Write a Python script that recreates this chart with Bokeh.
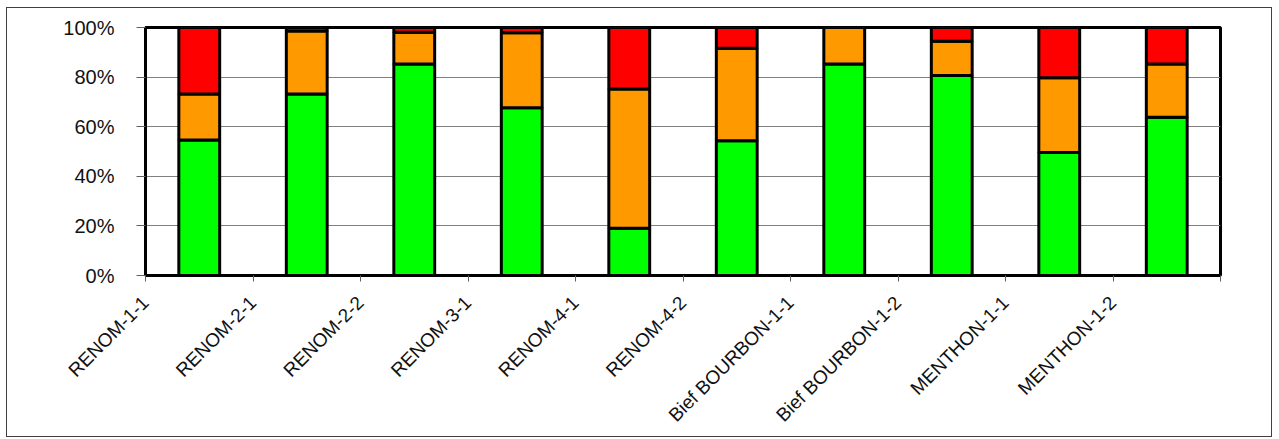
import math
from bokeh.plotting import figure
from bokeh.models import Range1d, FixedTicker, PrintfTickFormatter
from bokeh.embed import file_html
from bokeh.resources import INLINE

categories = ["RENOM-1-1", "RENOM-2-1", "RENOM-2-2", "RENOM-3-1", "RENOM-4-1",
              "RENOM-4-2", "Bief BOURBON-1-1", "Bief BOURBON-1-2", "MENTHON-1-1", "MENTHON-1-2"]
green = [54.6, 73.2, 85.3, 67.6, 19.1, 54.3, 85.3, 80.6, 49.6, 63.8]
orange = [18.6, 25.4, 12.8, 30.3, 56.1, 37.3, 14.7, 13.9, 30.1, 21.5]
red = [26.8, 1.4, 1.9, 2.1, 24.8, 8.4, 0.0, 5.5, 20.3, 14.7]
y_ticks = [0, 20, 40, 60, 80, 100]

n = len(categories)
x = [i + 0.5 for i in range(n)]
data = dict(x=x, green=green, orange=orange, red=red)

p = figure(width=1266, height=430, output_backend="svg", toolbar_location=None,
           x_range=Range1d(0, n), y_range=Range1d(0, 100),
           min_border_left=138, min_border_right=53, min_border_top=19, min_border_bottom=163)
p.styles = {"border": "1px solid #404040", "margin-left": "6px", "margin-top": "7px"}

p.vbar_stack(["green", "orange", "red"], x="x", width=0.38, source=data,
             color=["#00FF00", "#FF9900", "#FF0000"], line_color="black", line_width=3)

p.outline_line_color = "black"
p.outline_line_width = 3
p.xgrid.grid_line_color = None
p.ygrid.grid_line_color = "#808080"
p.ygrid.grid_line_width = 1.2
p.ygrid.ticker = FixedTicker(ticks=y_ticks)

p.yaxis.ticker = FixedTicker(ticks=y_ticks)
p.yaxis.formatter = PrintfTickFormatter(format="%d%%")
p.yaxis.major_label_text_font = "Liberation Sans"
p.yaxis.major_label_text_font_size = "20px"
p.yaxis.major_label_text_color = "#111111"
p.yaxis.major_label_standoff = 22
p.yaxis.major_tick_out = 9
p.yaxis.major_tick_in = 0
p.yaxis.major_tick_line_color = "#606060"
p.yaxis.minor_tick_line_color = None
p.yaxis.axis_line_color = "black"
p.yaxis.axis_line_width = 3

p.xaxis.ticker = FixedTicker(ticks=list(range(n + 1)))
overrides = {i: categories[i] for i in range(n)}
overrides[n] = ""
p.xaxis.major_label_overrides = overrides
p.xaxis.major_label_orientation = math.pi / 4
p.xaxis.major_label_text_font = "Liberation Sans"
p.xaxis.major_label_text_font_size = "19px"
p.xaxis.major_label_text_color = "#111111"
p.xaxis.major_label_standoff = 18
p.xaxis.major_tick_out = 6
p.xaxis.major_tick_in = 0
p.xaxis.major_tick_line_color = "#606060"
p.xaxis.minor_tick_line_color = None
p.xaxis.axis_line_color = "black"
p.xaxis.axis_line_width = 3

open("out.html", "w").write(file_html(p, INLINE))
